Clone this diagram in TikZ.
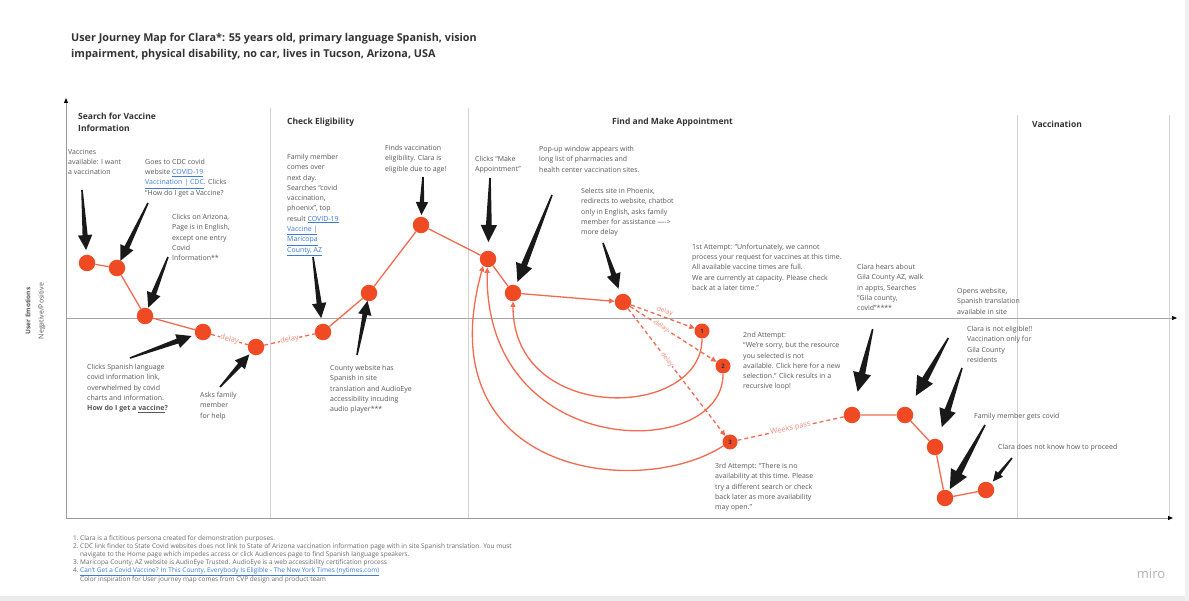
\documentclass[tikz,border=0pt]{standalone}
\usepackage{fontspec}
\setmainfont{Open Sans}
\usetikzlibrary{calc,arrows.meta}
\definecolor{jred}{HTML}{F04A24}
\definecolor{jline}{HTML}{F26A4F}
\definecolor{jlbl}{HTML}{F08A76}
\definecolor{txtgray}{HTML}{575757}
\definecolor{ttl}{HTML}{333333}
\definecolor{axisgray}{HTML}{9A9A9A}
\definecolor{divgray}{HTML}{D2D2D2}
\definecolor{linkblue}{HTML}{3D7BD9}
\definecolor{footgray}{HTML}{6A6A6A}
\newcommand\lnk[1]{{\color{linkblue}\underline{#1}}}
% #1 tip distance from node centre, #2 head length, #3 tail coordinate, #4 node
\newcommand\pointer[4]{%
  \pgfmathsetmacro\phw{0.48*#2}%
  \pgfmathsetmacro\psw{0.17*#2}%
  \coordinate (ptip) at ($(#4)!#1pt!(#3)$);
  \coordinate (pbase) at ($(ptip)!#2pt!(#3)$);
  \fill[pointerfill] ($(#3)!0.8pt!90:(ptip)$) -- ($(pbase)!\psw pt!90:(ptip)$)
    -- ($(pbase)!\phw pt!90:(ptip)$) -- (ptip) -- ($(pbase)!\phw pt!-90:(ptip)$)
    -- ($(pbase)!\psw pt!-90:(ptip)$) -- ($(#3)!0.8pt!-90:(ptip)$) -- cycle;
}
\begin{document}
\begin{tikzpicture}[x=1pt,y=-1pt,
  jnode/.style={circle, fill=jred, draw=none, minimum size=16.5pt, inner sep=0pt},
  numnode/.style={circle, fill=jred, draw=none, minimum size=15pt, inner sep=0pt,
    font=\fontsize{6}{6}\selectfont\bfseries, text=black!80},
  jsolid/.style={draw=jline, line width=1.3pt},
  jdash/.style={draw=jline, line width=1.3pt, dash pattern=on 4pt off 3pt},
  jtip/.style={-{Triangle[length=5.5pt,width=5pt]}},
  lbl/.style={font=\fontsize{7.5}{8}\selectfont, text=jlbl, fill=white, inner sep=0.5pt, sloped},
  slbl/.style={font=\fontsize{6.5}{7}\selectfont, text=jlbl, fill=white, inner sep=0.3pt, sloped},
  txt/.style={anchor=north west, inner sep=0pt, align=left, text=txtgray,
    font=\fontsize{7}{10.3}\selectfont},
  hdr/.style={anchor=north west, inner sep=0pt, align=left, text=ttl,
    font=\fontsize{8.5}{11.5}\selectfont\bfseries},
  axisline/.style={draw=axisgray, line width=0.9pt},
  midline/.style={draw=black!35, line width=0.6pt},
  divline/.style={draw=divgray, line width=0.8pt},
  axtip/.style={-{Triangle[length=5pt,width=4pt,color=black]}},
  pointerfill/.style={fill=black!90},
  foot/.style={anchor=north west, inner sep=0pt, align=left, text=footgray,
    font=\fontsize{6.5}{8}\selectfont}
]
\useasboundingbox (0,0) rectangle (1189,601);
\fill[white] (0,0) rectangle (1189,601);
% faint frame shadow
\fill[black!8] (0,596) rectangle (1189,601);
\fill[black!6] (1185,0) rectangle (1189,601);

% title
\node[anchor=north west, inner sep=0pt, align=left, text=ttl,
  font=\fontsize{10.8}{16}\selectfont\bfseries] (title) at (71,33.2)
  {User Journey Map for Clara*: 55 years old, primary language Spanish, vision\\
   impairment, physical disability, no car, lives in Tucson, Arizona, USA};

% grid: dividers and axes
\draw[divline] (270,108) -- (270,518);
\draw[divline] (468,108) -- (468,518);
\draw[divline] (1017,115) -- (1017,518);
\draw[divline] (1169,115) -- (1169,518);
\draw[midline, axtip] (66,318) -- (1177,318);
\draw[axisline, axtip] (66,518) -- (1173,518);
\draw[axisline, axtip] (66,518) -- (66,98);

% axis labels
\node[rotate=90, text=txtgray, font=\fontsize{6.5}{7}\selectfont\bfseries] (ylab1) at (28,311) {User Emotions};
\node[rotate=90, text=txtgray, font=\fontsize{7}{8}\selectfont] (ylab2) at (42,311) {Negative/Positive};

% section headers
\node[hdr] (h1) at (78,113.2) {Search for Vaccine\\Information};
\node[hdr] (h2) at (287,118.2) {Check Eligibility};
\node[hdr] (h3) at (612,118.2) {Find and Make Appointment};
\node[hdr] (h4) at (1032,121.2) {Vaccination};

% texts
\node[txt] (t1) at (68,148.9) {Vaccines\\available: I want\\a vaccination};
\node[txt] (t2) at (145,158.6) {Goes to CDC covid\\website \lnk{COVID-19}\\\lnk{Vaccination | CDC}. Clicks\\``How do I get a Vaccine?};
\node[txt] (t3) at (172,213.9) {Clicks on Arizona,\\Page is in English,\\except one entry\\Covid\\Information**};
\node[txt] (t4) at (87,363.9) {Clicks Spanish language\\covid information link,\\overwhelmed by covid\\charts and information.\\\textbf{How do I get a \underline{vaccine}?}};
\node[txt] (t5) at (200,391.9) {Asks family\\member\\for help};
\node[txt] (t6) at (287,153.9) {Family member\\comes over\\next day.\\Searches ``covid\\vaccination,\\phoenix'', top\\result \lnk{COVID-19}\\\lnk{Vaccine |}\\\lnk{Maricopa}\\\lnk{County, AZ}};
\node[txt] (t7) at (385,144.9) {Finds vaccination\\eligibility. Clara is\\eligible due to age!};
\node[txt] (t8) at (330,364.9) {County website has\\Spanish in site\\translation and AudioEye\\accessibility incuding\\audio player***};
\node[txt] (t9) at (475,155.9) {Clicks ``Make\\Appointment''};
\node[txt] (t10) at (539,145.9) {Pop-up window appears with\\long list of pharmacies and\\health center vaccination sites.};
\node[txt] (t11) at (581,187.9) {Selects site in Phoenix,\\redirects to website, chatbot\\only in English, asks family\\member for assistance ---->\\more delay};
\node[txt] (t12) at (692,243.6) {1st Attempt: ``Unfortunately, we cannot\\process your request for vaccines at this time.\\All available vaccine times are full.\\We are currently at capacity. Please check\\back at a later time.''};
\node[txt] (t13) at (743,331.9) {2nd Attempt:\\``We're sorry, but the resource\\you selected is not\\available. Click here for a new\\selection.'' Click results in a\\recursive loop!};
\node[txt] (t14) at (715,462.9) {3rd Attempt: ``There is no\\availability at this time. Please\\try a different search or check\\back later as more availability\\may open.''};
\node[txt] (t15) at (857,263.9) {Clara hears about\\Gila County AZ, walk\\in appts, Searches\\``Gila county,\\covid''****};
\node[txt] (t16) at (957,287.9) {Opens website,\\Spanish translation\\available in site};
\node[txt] (t17) at (967,325.9) {Clara is not eligible!!\\Vaccination only for\\Gila County\\residents};
\node[txt] (t18) at (974,412.9) {Family member gets covid};
\node[txt] (t19) at (998,443.9) {Clara does not know how to proceed};

% footnotes
\node[foot] (fn) at (73,535.1) {%
\makebox[7pt][l]{1.}Clara is a fictitious persona created for demonstration purposes.\\
\makebox[7pt][l]{2.}CDC link finder to State Covid websites does not link to State of Arizona vaccination information page with in site Spanish translation. You must\\
\hspace*{7pt}navigate to the Home page which impedes access or click Audiences page to find Spanish language speakers.\\
\makebox[7pt][l]{3.}Maricopa County, AZ website is AudioEye Trusted. AudioEye is a web accessibility certification process\\
\makebox[7pt][l]{4.}\lnk{Can't Get a Covid Vaccine? In This County, Everybody Is Eligible - The New York Times (nytimes.com)}\\
\hspace*{7pt}Color inspiration for User journey map comes from CVP design and product team};

\node[text=black!30, font=\fontsize{13}{13}\selectfont] (miro) at (1151,574) {miro};

% journey nodes
\node[jnode] (n1) at (87,263) {};
\node[jnode] (n2) at (117,268) {};
\node[jnode] (n3) at (145,316) {};
\node[jnode] (n4) at (203,332) {};
\node[jnode] (n5) at (256,347) {};
\node[jnode] (n6) at (323,332) {};
\node[jnode] (n7) at (369,293) {};
\node[jnode] (n8) at (421,225) {};
\node[jnode] (n9) at (488,259) {};
\node[jnode] (n10) at (513,293) {};
\node[jnode] (n11) at (623,302) {};
\node[numnode] (a1) at (702,331) {1};
\node[numnode] (a2) at (723,366) {2};
\node[numnode] (a3) at (730,442) {3};
\node[jnode] (n15) at (852,415) {};
\node[jnode] (n16) at (905,415) {};
\node[jnode] (n17) at (935,447) {};
\node[jnode] (n18) at (945,498) {};
\node[jnode] (n19) at (986,490) {};

% journey connectors
\draw[jsolid] (n1) -- (n2) -- (n3) -- (n4);
\draw[jdash] (n4) -- node[lbl]{delay} (n5);
\draw[jdash] (n5) -- node[lbl]{delay} (n6);
\draw[jsolid] (n6) -- (n7) -- (n8) -- (n9) -- (n10);
\draw[jsolid, jtip] (n10) -- (n11);
\draw[jdash, jtip] (n11) -- node[slbl, pos=0.5, above=1.5pt]{delay} (a1);
\draw[jdash, jtip] (n11) -- node[slbl, pos=0.36]{delay} (a2);
\draw[jdash, jtip] (n11) -- node[slbl, pos=0.4]{delay} (a3);
\draw[jsolid, jtip] (a1.south) .. controls (702,420) and (513,425) .. (n10.south);
\draw[jsolid, jtip] (a2.south) .. controls (724,462) and (484,462) .. (n9.-95);
\draw[jsolid, jtip] (a3.-150) .. controls (640,500) and (425,475) .. (n9.-125);
\draw[jdash] (a3) -- node[lbl]{Weeks pass} (n15);
\draw[jsolid] (n15) -- (n16) -- (n17) -- (n18) -- (n19);

% black pointers
\coordinate (p1) at (82,190);
\coordinate (p2) at (148,203);
\coordinate (p3) at (168,257);
\coordinate (p4) at (130,358);
\coordinate (p5) at (220,387);
\coordinate (p6) at (313,257);
\coordinate (p7) at (357,355);
\coordinate (p8) at (423,177);
\coordinate (p9) at (490,178);
\coordinate (p10) at (552,195);
\coordinate (p11) at (603,243);
\coordinate (p15) at (872.7,329);
\coordinate (p16) at (948.3,338);
\coordinate (p17) at (962,368);
\coordinate (p18) at (985,425);
\coordinate (p19) at (1012,458);
\pointer{13}{15}{p1}{n1}
\pointer{8}{15}{p2}{n2}
\pointer{9}{15}{p3}{n3}
\pointer{12}{15}{p4}{n4}
\pointer{10}{14}{p5}{n5}
\pointer{14}{15}{p6}{n6}
\pointer{8}{14}{p7}{n7}
\pointer{10}{13}{p8}{n8}
\pointer{17}{17}{p9}{n9}
\pointer{12}{18}{p10}{n10}
\pointer{14}{15}{p11}{n11}
\pointer{24}{19}{p15}{n15}
\pointer{22}{19}{p16}{n16}
\pointer{21}{18}{p17}{n17}
\pointer{10}{19}{p18}{n18}
\pointer{11}{10}{p19}{n19}
\end{tikzpicture}
\end{document}
